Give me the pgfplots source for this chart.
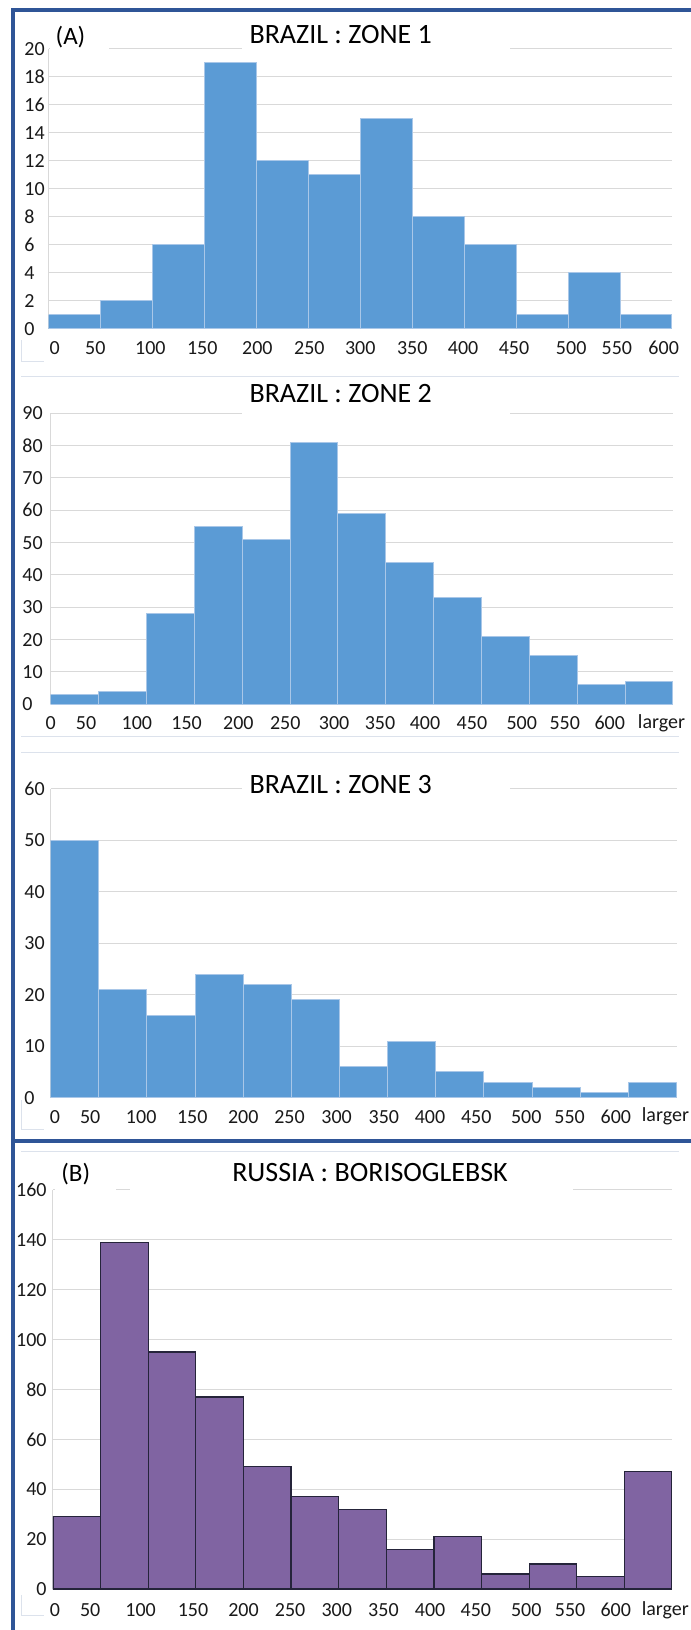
\documentclass[border=0pt]{standalone}
\usepackage{fontspec}
\setmainfont{Carlito}
\usepackage{pgfplots}
\pgfplotsset{compat=1.18}
\definecolor{barblue}{HTML}{5B9BD5}
\definecolor{baredge}{HTML}{A9C7E8}
\definecolor{barpurple}{HTML}{8064A2}
\definecolor{pedge}{HTML}{25243A}
\definecolor{gridc}{HTML}{D9D9D9}
\definecolor{framec}{HTML}{2F5597}
\definecolor{lightc}{HTML}{DCE2EC}
\pgfplotsset{
  hist/.style={
    scale only axis, anchor=south west,
    axis lines=left, axis line style={draw=gridc, line width=0.5pt, -},
    major tick length=0pt,
    ymajorgrids, grid style={draw=gridc, line width=0.5pt},
    enlargelimits=false, ymin=0,
    tick label style={font=\fontsize{10}{12}\selectfont, text=black!90},
    xticklabel style={anchor=center, inner sep=0pt, yshift=-9.5pt},
    yticklabel style={anchor=west, inner sep=0pt},
    /pgf/number format/assume math mode=true,
  }
}
\begin{document}
\begin{tikzpicture}
\path[use as bounding box] (0pt,0pt) rectangle (345.5pt,815pt);
% light chart-area remnants
\begin{scope}[draw=lightc, line width=0.5pt]
\draw (10.5pt,645pt) -- (10.5pt,634pt) -- (22pt,634pt);
\draw (10.5pt,626.75pt) -- (339.5pt,626.75pt);
\draw (10.5pt,446.65pt) -- (339.5pt,446.65pt);
\draw (10.5pt,438.65pt) -- (339.5pt,438.65pt);
\draw (10.5pt,265pt) -- (10.5pt,250pt) -- (22pt,250pt);
\draw (10.5pt,239.15pt) -- (339.5pt,239.15pt);
\draw (10.5pt,17.5pt) -- (10.5pt,7pt) -- (22pt,7pt);
\end{scope}

% Panel 1
\begin{axis}[hist, at={(24.25pt,650.5pt)}, width=311.75pt, height=140pt,
  xmin=0, xmax=600, ymax=20, ytick={0,2,...,20},
  yticklabel style={xshift=-12.25pt},
  xtick={6,45,98,148,201,251,300,350,399,448,503,547,592},
  xticklabels={0,50,100,150,200,250,300,350,400,450,500,550,600}]
\addplot[ybar interval, fill=barblue, draw=baredge, line width=0.5pt] coordinates {
(0,1) (50,2) (100,6) (150,19) (200,12) (250,11) (300,15) (350,8) (400,6) (450,1) (500,4) (550,1) (600,1)};
\end{axis}

% Panel 2
\begin{axis}[hist, at={(25.35pt,462.85pt)}, width=311.15pt, height=145.5pt,
  xmin=0, xmax=650, ymax=90, ytick={0,10,...,90},
  yticklabel style={xshift=-14.35pt},
  xtick={0,37,90,142,196,245,296,344,391,440,492,537,584,638},
  xticklabels={0,50,100,150,200,250,300,350,400,450,500,550,600,larger}]
\addplot[ybar interval, fill=barblue, draw=baredge, line width=0.5pt] coordinates {
(0,3) (50,4) (100,28) (150,55) (200,51) (250,81) (300,59) (350,44) (400,33) (450,21) (500,15) (550,6) (600,7) (650,7)};
\end{axis}

% Panel 3
\begin{axis}[hist, at={(25.35pt,266.15pt)}, width=312.9pt, height=154.35pt,
  xmin=0, xmax=650, ymax=60, ytick={0,10,...,60},
  yticklabel style={xshift=-13.35pt},
  xtick={4.5,41,94,147,200,248,297,346,394,442,494,539,587,638.5},
  xticklabels={0,50,100,150,200,250,300,350,400,450,500,550,600,larger}]
\addplot[ybar interval, fill=barblue, draw=baredge, line width=0.5pt] coordinates {
(0,50) (50,21) (100,16) (150,24) (200,22) (250,19) (300,6) (350,11) (400,5) (450,3) (500,2) (550,1) (600,3) (650,3)};
\end{axis}

% Panel 4
\begin{axis}[hist, at={(26.5pt,20.5pt)}, width=309.5pt, height=199.5pt,
  xmin=0, xmax=650, ymax=160, ytick={0,20,...,160},
  yticklabel style={anchor=east, xshift=-3pt},
  xticklabel style={yshift=-1pt},
  xtick={2,39,92,147,200,249,298,347,396,444,497,543,591,643},
  xticklabels={0,50,100,150,200,250,300,350,400,450,500,550,600,larger}]
\addplot[ybar interval, fill=barpurple, draw=pedge, line width=0.6pt] coordinates {
(0,29) (50,139) (100,95) (150,77) (200,49) (250,37) (300,32) (350,16) (400,21) (450,6) (500,10) (550,5) (600,47) (650,47)};
\end{axis}

% gaps in top gridlines behind titles
\fill[white] (25pt,789pt) rectangle (54.5pt,792pt);
\fill[white] (120.75pt,789pt) rectangle (255pt,792pt);
\fill[white] (120.75pt,606.5pt) rectangle (255pt,610pt);
\fill[white] (120.75pt,419pt) rectangle (255pt,422pt);
\fill[white] (27.5pt,218.5pt) rectangle (57.75pt,221.5pt);
\fill[white] (65pt,218.5pt) rectangle (286.5pt,221.5pt);

% titles
\begin{scope}[every node/.style={inner sep=0pt, text=black}]
\node[font=\fontsize{14}{16}\selectfont] at (170.35pt,797.5pt) {BRAZIL : ZONE 1};
\node[font=\fontsize{14}{16}\selectfont] at (170.35pt,618pt) {BRAZIL : ZONE 2};
\node[font=\fontsize{14}{16}\selectfont] at (170.35pt,422.5pt) {BRAZIL : ZONE 3};
\node[font=\fontsize{14}{16}\selectfont] at (185pt,228.5pt) {RUSSIA : BORISOGLEBSK};
\node[font=\fontsize{12.5}{15}\selectfont] at (35.25pt,796.65pt) {(A)};
\node[font=\fontsize{12.5}{15}\selectfont] at (37.9pt,228pt) {(B)};
\end{scope}

% frame
\begin{scope}[draw=framec, line width=1.75pt]
\draw (6.5pt,0pt) -- (6.5pt,810pt) -- (345.5pt,810pt);
\draw (6.5pt,244.5pt) -- (345.5pt,244.5pt);
\end{scope}
\end{tikzpicture}
\end{document}
